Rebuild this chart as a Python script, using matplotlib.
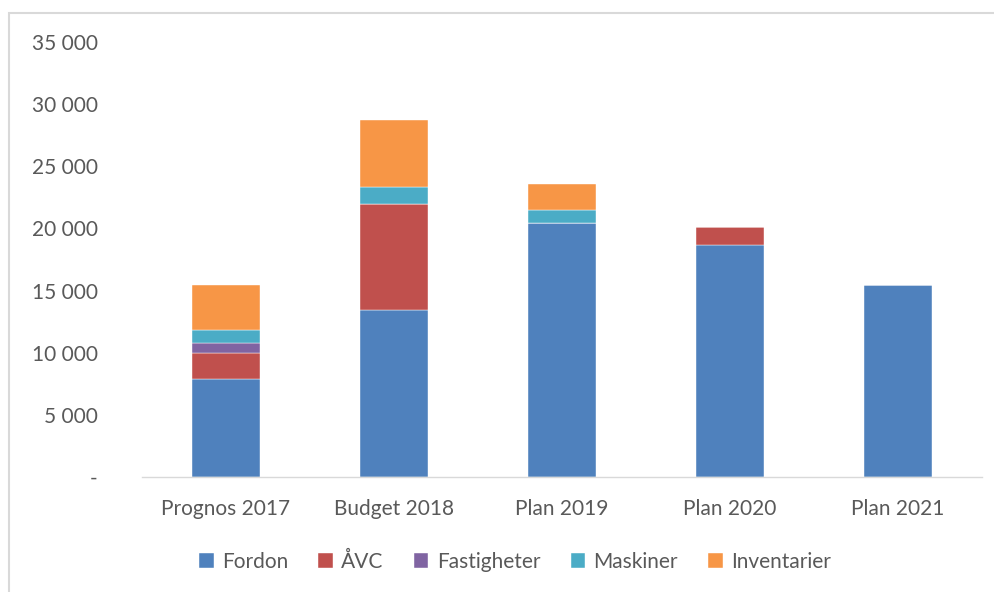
import numpy as np
import matplotlib.pyplot as plt
from matplotlib.patches import Rectangle
from matplotlib.ticker import FuncFormatter

categories = ["Prognos 2017", "Budget 2018", "Plan 2019", "Plan 2020", "Plan 2021"]
series_names = ["Fordon", "ÅVC", "Fastigheter", "Maskiner", "Inventarier"]
fordon = [7900, 13400, 20430, 18700, 15450]
avc = [2100, 8600, 0, 1450, 0]
fastigheter = [800, 0, 0, 0, 0]
maskiner = [1050, 1350, 1050, 0, 0]
inventarier = [3630, 5380, 2070, 0, 0]
colors = ["#4F81BD", "#C0504D", "#8064A2", "#4BACC6", "#F79646"]

plt.rcParams["font.family"] = ["Lato", "DejaVu Sans"]
text_color = "#595959"
fs = 15

fig = plt.figure(figsize=(9.95, 5.92), dpi=100)
ax = fig.add_axes([142 / 995, 1 - 477 / 592, (982 - 142) / 995, (477 - 42) / 592])

x = np.arange(len(categories))
bottom = np.zeros(len(categories))
for name, vals, c in zip(series_names, [fordon, avc, fastigheter, maskiner, inventarier], colors):
    ax.bar(x, vals, width=0.4, bottom=bottom, color=c, label=name,
           edgecolor="white", linewidth=0.3)
    bottom += np.array(vals)

ax.set_xlim(-0.5, len(categories) - 0.5)
ax.set_ylim(0, 35000)
ax.set_yticks(np.arange(0, 35001, 5000))
ax.yaxis.set_major_formatter(FuncFormatter(
    lambda v, p: "-" if v == 0 else f"{int(v):,}".replace(",", " ")))
ax.set_xticks(x)
ax.set_xticklabels(categories)

for s in ["top", "right", "left"]:
    ax.spines[s].set_visible(False)
ax.spines["bottom"].set_color("#d9d9d9")
ax.spines["bottom"].set_linewidth(1)
ax.tick_params(axis="y", length=0, pad=32, labelsize=fs, labelcolor=text_color)
ax.tick_params(axis="x", length=0, pad=16, labelsize=fs, labelcolor=text_color)

fig.legend(loc="center", bbox_to_anchor=(515 / 995, 1 - 562 / 592), ncol=5,
           frameon=False, fontsize=fs, labelcolor=text_color,
           handlelength=0.7, handleheight=0.7, handletextpad=0.4, columnspacing=1.45)

# chart-area frame (only top/left visible in the crop)
fig.patches.append(Rectangle((9 / 995, -0.1), 1.2, 1 - 13 / 592 + 0.1,
                             transform=fig.transFigure, fill=False,
                             edgecolor="#d9d9d9", linewidth=1.5))

fig.savefig("out.png", dpi=100)
